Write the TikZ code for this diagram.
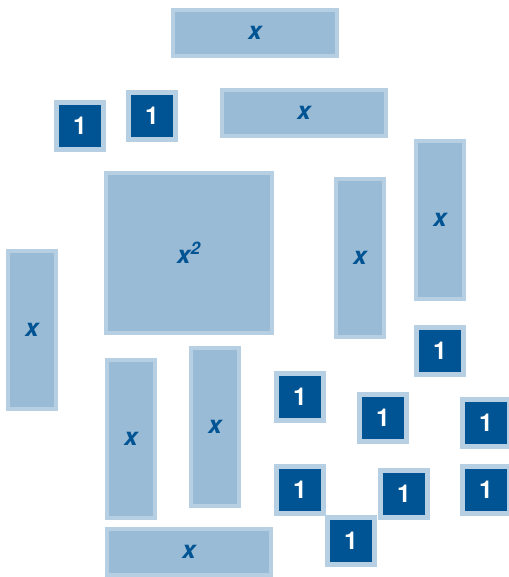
\documentclass[tikz,border=0pt]{standalone}
\usepackage{fontspec}
\setmainfont{TeX Gyre Heros}
\usepackage{xcolor}
\usepackage{tikz}
\definecolor{tileblue}{RGB}{0,84,148}
\definecolor{tileedge}{RGB}{182,207,226}
\definecolor{xfill}{RGB}{154,187,213}

\begin{document}
\begin{tikzpicture}[
    x=0.02cm, y=-0.02cm,
    every node/.style={font=\fontsize{14}{16}\selectfont\bfseries\itshape, inner sep=0pt, outer sep=0pt},
    tile/.style={draw=tileedge, line width=0.08cm, fill=xfill, text=tileblue},
    xlong/.style={tile, minimum width=3.30cm, minimum height=0.93cm},
    xtall/.style={tile, minimum width=0.95cm, minimum height=3.18cm},
    xsq/.style={tile, minimum width=3.32cm, minimum height=3.20cm},
    unit/.style={draw=tileedge, line width=0.09cm, fill=tileblue, text=white, font=\fontsize{14}{16}\selectfont\bfseries, minimum size=0.94cm}
]
\useasboundingbox (0,0) rectangle (509,577);
% x tiles
\node[xlong] (xtop) at (255,33) {x};
\node[xlong] (xmid) at (304,113) {x};
\node[xlong] (xbot) at (189,552) {x};
\node[xtall] (xright) at (440,220) {x};
\node[xtall] (xcenter) at (360,258) {x};
\node[xtall] (xleft) at (32,330) {x};
\node[xtall] (xlowA) at (131,439) {x};
\node[xtall] (xlowB) at (215,427) {x};
% x squared
\node[xsq] (xx) at (189,253) {x\textsuperscript{2}};
% unit tiles
\node[unit] (oneA) at (80,126) {1};
\node[unit] (oneB) at (152,116) {1};
\node[unit] (oneC) at (440,351) {1};
\node[unit] (oneD) at (300,397) {1};
\node[unit] (oneE) at (383,418) {1};
\node[unit] (oneF) at (486,423) {1};
\node[unit] (oneG) at (300,490) {1};
\node[unit] (oneH) at (404,494) {1};
\node[unit] (oneI) at (486,490) {1};
\node[unit] (oneJ) at (351,541) {1};
\end{tikzpicture}
\end{document}
